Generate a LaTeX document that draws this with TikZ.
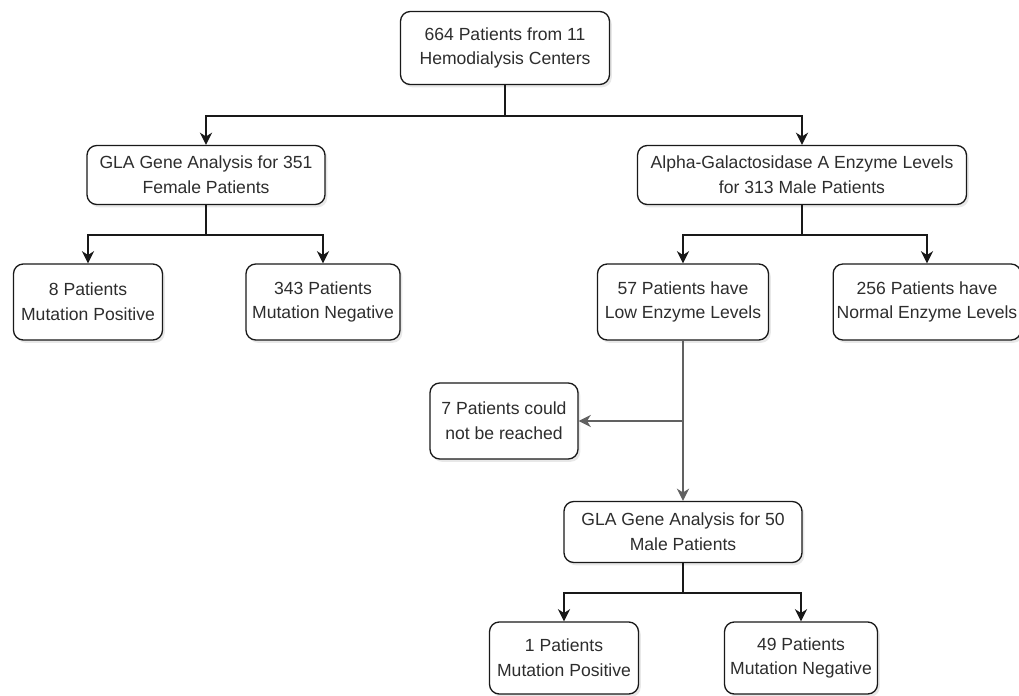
\documentclass[tikz,border=0pt]{standalone}
\usepackage{fontspec}
\setmainfont{Liberation Sans}
\usetikzlibrary{positioning,arrows.meta,calc,shadows}
\definecolor{fcline}{RGB}{25,25,25}
\definecolor{fctext}{RGB}{45,45,45}
\tikzset{
  fc/.style={font=\fontsize{10}{14}\selectfont, text=fctext},
  fcbox/.style 2 args={
    fc, draw=fcline, fill=white, line width=0.75pt, rounded corners=5.5pt,
    align=center, inner sep=2pt, minimum width=#1, minimum height=#2,
    drop shadow={opacity=0.18, shadow xshift=1.3pt, shadow yshift=-1.6pt}
  },
  fcarr/.style={-{Stealth[length=7pt,width=7pt]}, line width=0.75pt, draw=fcline},
  fcgarr/.style={fcarr, draw=black!62},
}

\begin{document}
\begin{tikzpicture}[fc, x=0.02cm, y=-0.02cm]
    \useasboundingbox (0,0) rectangle (1019,696);

    % screening
    \node[fcbox={4.18cm}{1.46cm}] (src) at (505,48) {664 Patients from 11\\Hemodialysis Centers};
    \node[fcbox={4.76cm}{1.18cm}] (fem) at (206,175) {GLA Gene Analysis for 351\\Female Patients};
    \node[fcbox={6.58cm}{1.18cm}] (male) at (802,175) {Alpha-Galactosidase A Enzyme Levels\\for 313 Male Patients};

    % results
    \node[fcbox={2.98cm}{1.52cm}] (fpos) at (88,302) {8 Patients\\Mutation Positive};
    \node[fcbox={3.08cm}{1.52cm}] (fneg) at (323,302) {343 Patients\\Mutation Negative};
    \node[fcbox={3.42cm}{1.52cm}] (low) at (683,302) {57 Patients have\\Low Enzyme Levels};
    \node[fcbox={3.6cm}{1.52cm}] (norm) at (927,302) {256 Patients have\\Normal Enzyme Levels};
    \node[fcbox={2.96cm}{1.52cm}] (lost) at (504,421) {7 Patients could\\not be reached};
    \node[fcbox={4.76cm}{1.22cm}] (mgla) at (683,532) {GLA Gene Analysis for 50\\Male Patients};
    \node[fcbox={2.98cm}{1.44cm}] (mpos) at (564,658) {1 Patients\\Mutation Positive};
    \node[fcbox={3.06cm}{1.44cm}] (mneg) at (801,658) {49 Patients\\Mutation Negative};

    \draw[fcarr] (src.south) -- ++(0,31) -| (fem.north);
    \draw[fcarr] (src.south) -- ++(0,31) -| (male.north);

    \foreach \a/\b in {fem/fpos, fem/fneg, male/low, male/norm, mgla/mpos, mgla/mneg}
      \draw[fcarr] (\a.south) -- ++(0,30) -| (\b.north);

    \draw[fcgarr] (low.south) -- (mgla.north);
    \draw[fcgarr] (low.south |- lost.east) -- (lost.east);
\end{tikzpicture}
\end{document}
